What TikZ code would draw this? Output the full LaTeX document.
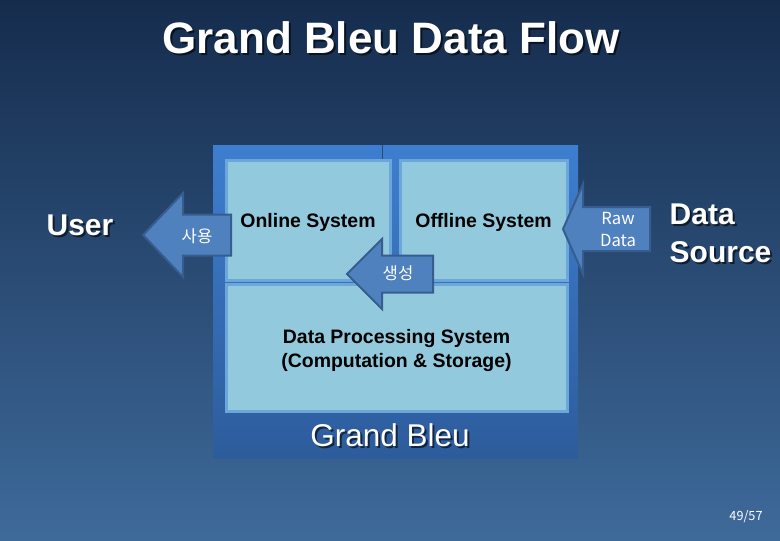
\documentclass[tikz,border=0pt]{standalone}
\usepackage{fontspec}
\setmainfont{Liberation Sans}
\newfontfamily\krfont{Noto Sans CJK KR}
\definecolor{deepsea}{HTML}{152C4D}
\definecolor{shallow}{HTML}{3E6A9A}
\definecolor{paneltop}{HTML}{3E7ECF}
\definecolor{panelbot}{HTML}{2D5C9C}
\definecolor{tile}{HTML}{93C9DD}
\definecolor{tileedge}{HTML}{6CA7DC}
\definecolor{arrowfill}{HTML}{4F81BF}
\definecolor{arrowedge}{HTML}{365D8E}

\begin{document}
\begin{tikzpicture}[x=0.75pt,y=-0.75pt,
  tile/.style={draw=tileedge, fill=tile, line width=2.25pt, inner sep=0pt, text depth=0pt, align=center, font=\fontsize{14.6}{18}\selectfont\bfseries},
  blk/.style={draw=arrowedge, fill=arrowfill, line width=1.5pt},
  kr/.style={text=white, align=center, font=\krfont\fontsize{12.5}{16.5}\selectfont},
  big/.style={text=white, font=\fontsize{22.5}{28.5}\selectfont\bfseries},
  shad/.style={text=black, opacity=0.6}]
% background
\useasboundingbox (0,0) rectangle (780,540);
\shade[top color=deepsea, bottom color=shallow] (0,0) rectangle (780,540);
% title
\node[big, shad, anchor=base, font=\fontsize{33}{36}\selectfont\bfseries] (title-s) at (393,55) {Grand Bleu Data Flow};
\node[big, anchor=base, font=\fontsize{33}{36}\selectfont\bfseries] (title) at (391,53) {Grand Bleu Data Flow};
% grand bleu panel
\node[top color=paneltop, bottom color=panelbot, minimum width=273.75pt, minimum height=234.75pt, inner sep=0pt] (gbox) at (395.5,301.5) {};
\draw[arrowedge!80!black, line width=0.75pt] (382,145) -- (382,160);
\node[tile, minimum width=123pt, minimum height=90pt] (online) at (308,220.5) {Online System};
\node[tile, minimum width=125.25pt, minimum height=90pt] (offline) at (483.5,220.5) {Offline System};
\node[tile, minimum width=255.75pt, minimum height=95.25pt] (dps) at (396.5,348) {Data Processing System\\(Computation \& Storage)};
\node[big, shad, anchor=base, font=\fontsize{23.6}{28}\selectfont] (gb-s) at (392,448) {Grand Bleu};
\node[big, anchor=base, font=\fontsize{23.6}{28}\selectfont] (gb) at (390,446) {Grand Bleu};
% block arrows (tip x/y, head x, head half, shaft half, tail x)
\foreach \tx/\ty/\hx/\hh/\sh/\ex in {143/235/183/42/20.5/231, 347/274/382/35/18.5/433, 563/229/583/45/22/650}
  \draw[blk] (\tx,\ty) -- (\hx,\ty-\hh) -- (\hx,\ty-\sh) -- (\ex,\ty-\sh) -- (\ex,\ty+\sh) -- (\hx,\ty+\sh) -- (\hx,\ty+\hh) -- cycle;
\node[kr] (use) at (197,236) {사용};
\node[kr] (make) at (398,273) {생성};
\node[kr] (raw) at (618,229) {Raw\\Data};
% ends
\node[big, shad, anchor=base] (user-s) at (82,237) {User};
\node[big, anchor=base] (user) at (80,235) {User};
\node[big, shad, anchor=west, align=left] (src-s) at (667,235) {Data\\Source};
\node[big, anchor=west, align=left] (src) at (665,233) {Data\\Source};
% page
\node[text=white, font=\krfont\fontsize{9.5}{11}\selectfont] (page) at (746,517) {49/57};
\end{tikzpicture}
\end{document}
